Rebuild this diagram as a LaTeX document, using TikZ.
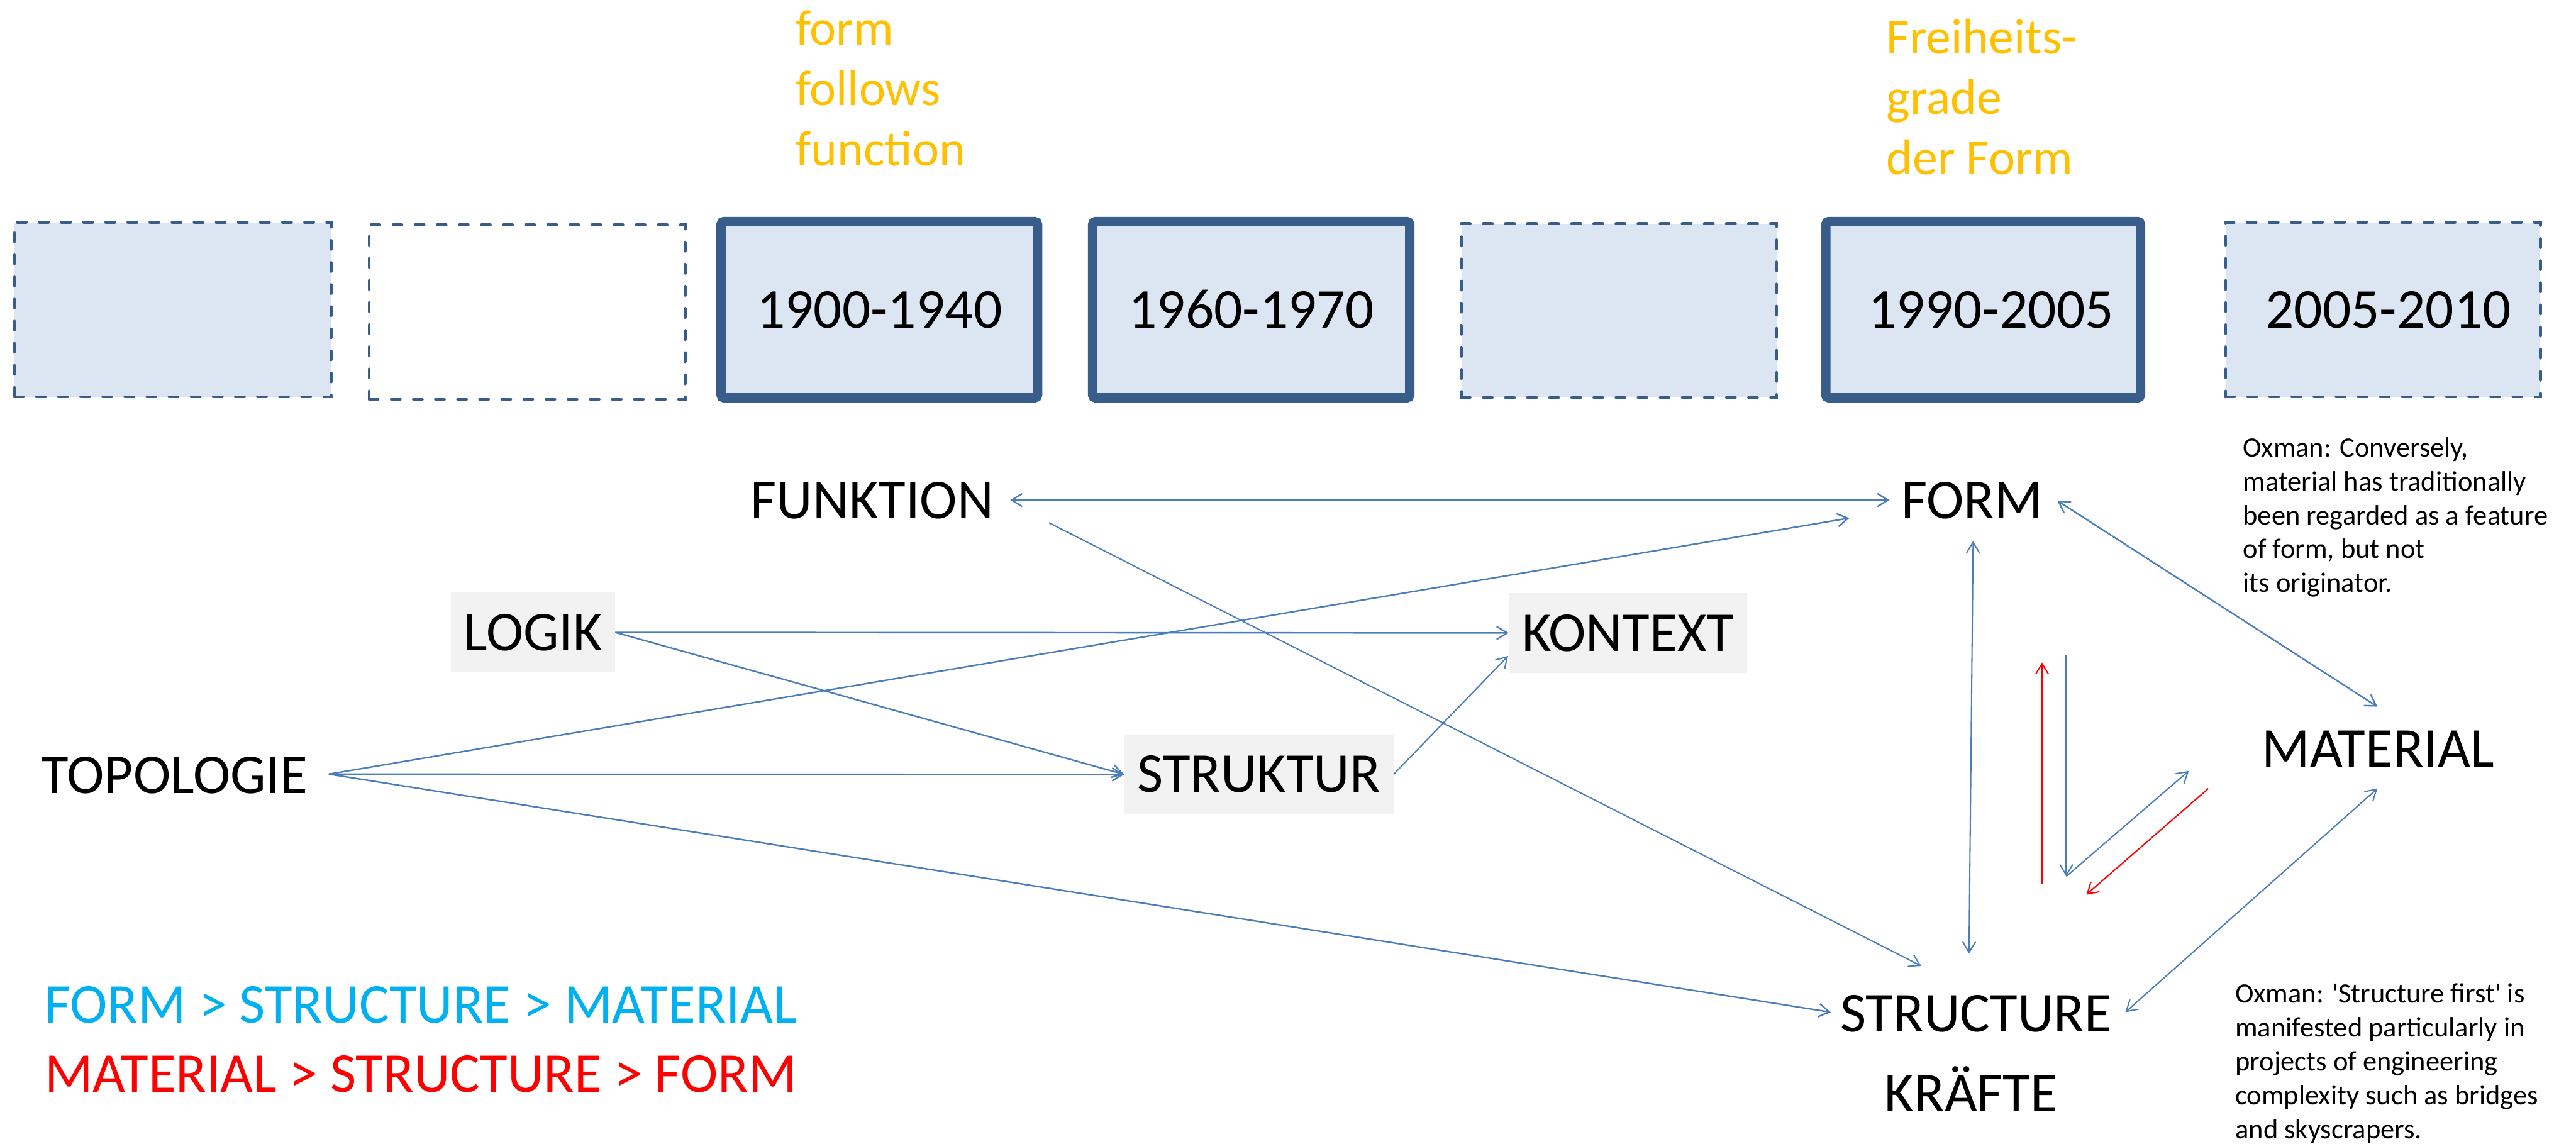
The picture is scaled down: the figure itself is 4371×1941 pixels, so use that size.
\documentclass[tikz,border=0pt]{standalone}
\usepackage{fontspec}
\setmainfont{Carlito}
\newfontfamily\notefont{Carlito}[Ligatures=TeXOff]
\usetikzlibrary{arrows.meta,calc}
\definecolor{boxborder}{RGB}{56,93,138}
\definecolor{boxfill}{RGB}{220,230,242}
\definecolor{arrowblue}{RGB}{74,126,187}
\definecolor{orangetxt}{RGB}{255,192,0}
\definecolor{legcyan}{RGB}{0,176,240}
\definecolor{legred}{RGB}{255,0,0}
\definecolor{graybg}{RGB}{242,242,242}
\newcommand\mainfs{\fontsize{95.5}{116}\selectfont}
\newcommand\orfs{\fontsize{85}{102.5}\selectfont}
\newcommand\notefs{\notefont\fontsize{47.5}{57.5}\selectfont}
\begin{document}
\begin{tikzpicture}[x=1pt,y=-1pt,
  solidbox/.style={draw=boxborder, line width=16pt, fill=boxfill, rounded corners=5pt,
    minimum width=537pt, minimum height=299pt, inner sep=0pt, outer sep=0pt,
    text height=61pt, text depth=0pt, font=\mainfs},
  dashbox/.style={draw=boxborder, line width=5pt, dash pattern=on 15pt off 22.5pt,
    line cap=round, minimum width=536pt, minimum height=296pt, inner sep=0pt, outer sep=0pt,
    text height=61pt, text depth=0pt, font=\mainfs},
  lbl/.style={inner sep=0pt, outer sep=0pt, text height=61pt, text depth=0pt, font=\mainfs},
  graybox/.style={lbl, fill=graybg, minimum height=136pt},
  note/.style={inner sep=0pt, outer sep=0pt, anchor=base west, font=\notefs},
  orange/.style={inner sep=0pt, outer sep=0pt, anchor=base west, font=\orfs, text=orangetxt},
  tipb/.tip={Straight Barb[length=18pt,width=22pt]},
  arr/.style={draw=arrowblue, line width=2.6pt, -tipb},
  arrtwo/.style={draw=arrowblue, line width=2.6pt, tipb-tipb},
  arrthin/.style={draw=arrowblue, line width=2.2pt, -tipb},
  arrtwothin/.style={draw=arrowblue, line width=2.2pt, tipb-tipb},
  arrred/.style={draw=legred, line width=2.2pt, -tipb}
]
\fill[white] (0,0) rectangle (4371,1941);
\useasboundingbox (0,0) rectangle (4371,1941);

% timeline boxes
\node[dashbox, fill=boxfill, minimum width=537pt] (b1) at (293,525.5) {};
\node[dashbox] (b2) at (894.5,529.5) {};
\node[solidbox] (b3) at (1492,525.5) {1900-1940};
\node[solidbox, minimum width=538pt] (b4) at (2123,525.5) {1960-1970};
\node[dashbox, fill=boxfill, minimum width=535pt, minimum height=295pt] (b5) at (2747,527) {};
\node[solidbox, minimum width=534pt] (b6) at (3365,525.5) {\hspace*{26pt}1990-2005};
\node[dashbox, fill=boxfill, minimum width=534pt] (b7) at (4043.5,525.5) {\hspace*{18pt}2005-2010};

% orange captions
\node[orange] (fff) at (1350,76) {\vtop{\hbox{form}\hbox{follows}\hbox{function}}};
\node[orange] (frei) at (3201,91) {\vtop{\hbox{Freiheits-}\hbox{grade}\hbox{der Form}}};

% concept labels
\node[lbl, anchor=base] (funk) at (1480,880) {FUNKTION};
\node[lbl, anchor=base] (form) at (3346,880) {FORM};
\node[graybox, minimum width=279pt] (logik) at (904.5,1073) {LOGIK};
\node[graybox, minimum width=405pt] (kontext) at (2762.5,1074) {KONTEXT};
\node[graybox, minimum width=457pt] (strukt) at (2136,1314) {STRUKTUR};
\node[lbl, anchor=base] (topo) at (296,1346) {TOPOLOGIE};
\node[lbl, anchor=base] (mat) at (4035,1301) {MATERIAL};
\node[lbl, anchor=base] (struct) at (3353,1751) {STRUCTURE};
\node[lbl, anchor=base] (kraft) at (3345,1886) {KRÄFTE};

% legend
\node[lbl, anchor=base west, text=legcyan] (leg1) at (76,1736) {FORM > STRUCTURE > MATERIAL};
\node[lbl, anchor=base west, text=legred] (leg2) at (76,1853) {MATERIAL > STRUCTURE > FORM};

% notes
\node[note] (ox1) at (3806,775) {\vtop{\hbox{Oxman: Conversely,}\hbox{material has traditionally}\hbox{been regarded as a feature}\hbox{of form, but not}\hbox{its originator.}}};
\node[note] (ox2) at (3793,1702) {\vtop{\hbox{Oxman: 'Structure first' is}\hbox{manifested particularly in}\hbox{projects of engineering}\hbox{complexity such as bridges}\hbox{and skyscrapers.}}};

% connectors
\draw[arrtwo] ($(funk.east)+(28,-1)$) -- ($(form.west)+(-20,-1)$);
\draw[arrthin] ($(funk.south east)+(94,7)$) -- ($(struct.north)+(-93,-51)$);
\coordinate (topoout) at ($(topo.east)+(36,-2)$);
\draw[arr] (topoout) -- ($(form.south west)+(-88,-1)$);
\draw[arr] (logik.east) -- (kontext.west);
\draw[arr] (logik.east) -- (strukt.west);
\draw[arr] (topoout) -- (strukt.west);
\draw[arr] (topoout) -- ($(struct.west)+(-16,-3)$);
\draw[arrthin] (strukt.east) -- ($(kontext.south west)+(-1,-29)$);
\draw[arrtwothin] ($(form.south)+(2,38)$) -- ($(struct.north)+(-12,-72)$);
\draw[arrtwo] ($(form.east)+(25,0)$) -- ($(mat.north)+(-1,-41)$);
\draw[arrtwothin] ($(mat.south)+(-1,37)$) -- ($(struct.east)+(23,-3)$);

% small direction arrows
\coordinate (rvbot) at (3465,1499);
\coordinate (rvtop) at (3465,1124);
\coordinate (bvtop) at (3506,1111);
\coordinate (bvbot) at (3506,1487);
\coordinate (bdiag) at (3714,1308);
\coordinate (rdA) at (3747,1338);
\coordinate (rdB) at (3540,1518);
\draw[arrred] (rvbot) -- (rvtop);
\draw[arrthin] (bvtop) -- (bvbot);
\draw[arrthin] (bvbot) -- (bdiag);
\draw[arrred] (rdA) -- (rdB);
\end{tikzpicture}
\end{document}
